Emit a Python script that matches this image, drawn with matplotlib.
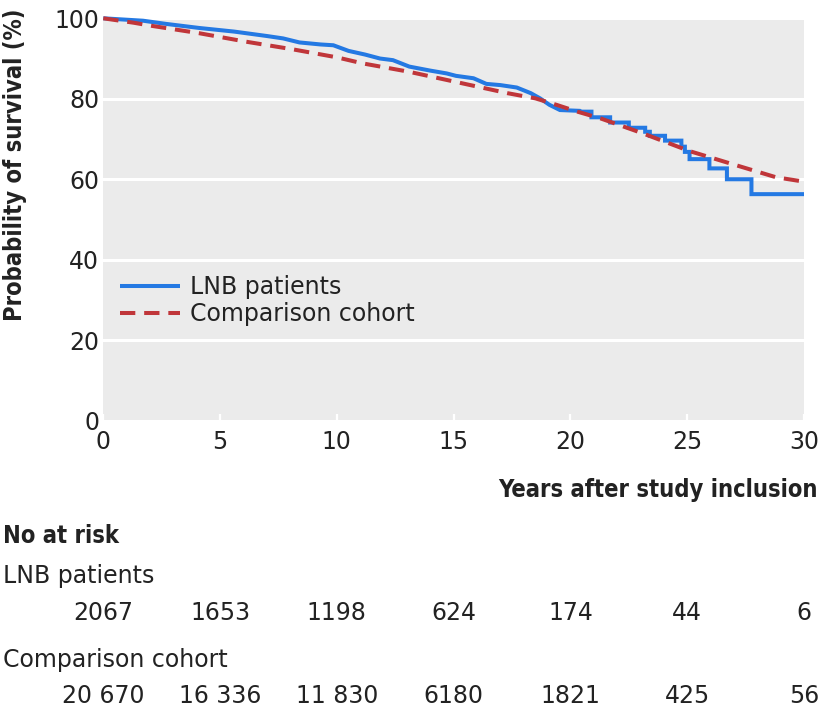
import matplotlib
matplotlib.use("Agg")
import matplotlib.pyplot as plt
import matplotlib.transforms as mtransforms

# ---- data ----
# LNB patients: Kaplan-Meier curve (repeated years mark the vertical drops of late steps)
lnb_years = [0, 1.7, 2.7, 4.1, 5.6, 7.0, 7.7, 8.4, 9.3, 9.85, 10.5, 11.2, 11.85,
             12.4, 13.1, 14.0, 14.7, 15.1, 15.85, 16.4, 17.0, 17.7, 18.3, 18.7,
             19.1, 19.55, 20.4, 20.45, 20.9, 20.9, 21.7, 21.7, 22.5, 22.5, 23.2,
             23.2, 23.4, 23.4, 24.05, 24.05, 24.75, 24.75, 24.9, 24.9, 25.1, 25.1,
             25.95, 25.95, 26.7, 26.7, 27.75, 27.75, 30]
lnb_surv = [100, 99.4, 98.6, 97.6, 96.7, 95.6, 95.0, 94.0, 93.5, 93.3, 91.9, 91.0,
            90.0, 89.6, 88.0, 87.0, 86.3, 85.7, 85.1, 83.7, 83.4, 82.8, 81.4, 80.1,
            78.5, 77.2, 77.0, 76.8, 76.8, 75.4, 75.4, 74.1, 74.1, 72.8, 72.8, 71.8,
            71.8, 70.8, 70.8, 69.6, 69.6, 68.1, 68.1, 66.8, 66.8, 65.0, 65.0, 62.7,
            62.7, 60.0, 60.0, 56.3, 56.3]

comp_years = [0, 1.3, 2.1, 4.1, 6.1, 8.1, 10.0, 11.1, 13.1, 15.4, 17.3, 18.5, 19.4,
              20.3, 21.3, 23.1, 25.1, 26.8, 28.0, 28.8, 30]
comp_surv = [100, 98.9, 98.1, 96.3, 94.2, 92.3, 90.3, 88.8, 86.7, 83.8, 81.4, 80.1,
             78.5, 76.8, 75.1, 71.4, 67.0, 64.0, 61.9, 60.5, 59.4]

series_labels = ["LNB patients", "Comparison cohort"]
risk_times = [0, 5, 10, 15, 20, 25, 30]
risk_lnb = ["2067", "1653", "1198", "624", "174", "44", "6"]
risk_comp = ["20 670", "16 336", "11 830", "6180", "1821", "425", "56"]
y_ticks = [0, 20, 40, 60, 80, 100]

# ---- style ----
W, H = 824, 712
FS = 17
TXT = "#222222"
BLUE = "#2479e3"
RED = "#c0363a"
BOLD = dict(family="DejaVu Sans", weight="bold", stretch="condensed")

fig = plt.figure(figsize=(W / 100, H / 100), dpi=100)
ax = fig.add_axes([103.3 / W, 1 - 420.7 / H, (804 - 103.3) / W, (420.7 - 18.3) / H])
ax.set_facecolor("#ebebeb")
for s in ax.spines.values():
    s.set_visible(False)

ax.plot(lnb_years, lnb_surv, color=BLUE, lw=2.9, label=series_labels[0],
        clip_on=False, solid_capstyle="butt", solid_joinstyle="miter", zorder=3)
ax.plot(comp_years, comp_surv, color=RED, lw=2.9, dashes=(3.8, 2.2),
        label=series_labels[1], clip_on=False, zorder=3)

ax.set_xlim(0, 30)
ax.set_ylim(0, 100)
ax.set_xticks(risk_times)
ax.set_yticks(y_ticks)
ax.yaxis.grid(True, color="white", lw=2.2)
ax.set_axisbelow(True)
ax.tick_params(axis="x", direction="in", length=5, width=1.6, color="white",
               pad=7, labelsize=FS, labelcolor=TXT)
ax.tick_params(axis="y", length=0, pad=3, labelsize=FS, labelcolor=TXT)

leg = ax.legend(loc="center left", bbox_to_anchor=((120 - 103.3) / 700.7, (420.7 - 300.5) / 402.4),
                frameon=False, fontsize=FS, handlelength=2.55, handletextpad=0.42,
                borderpad=0, borderaxespad=0, labelspacing=0.12)
for t in leg.get_texts():
    t.set_color(TXT)

# y label
fig.text(15 / W, 1 - 165 / H, "Probability of survival (%)", rotation=90,
         ha="center", va="center", fontsize=FS, color=TXT, **BOLD)

# x label
fig.text(818 / W, 1 - 497 / H, "Years after study inclusion", ha="right",
         va="baseline", fontsize=FS, color=TXT, **BOLD)

# number at risk table
fig.text(3 / W, 1 - 543 / H, "No at risk", ha="left", va="baseline",
         fontsize=FS, color=TXT, **BOLD)
fig.text(3 / W, 1 - 583 / H, series_labels[0], ha="left", va="baseline",
         fontsize=FS, color=TXT)
fig.text(3 / W, 1 - 667 / H, series_labels[1], ha="left", va="baseline",
         fontsize=FS, color=TXT)
tr = mtransforms.blended_transform_factory(ax.transData, fig.transFigure)
for t, a, b in zip(risk_times, risk_lnb, risk_comp):
    ax.text(t, 1 - 620 / H, a, transform=tr, ha="center", va="baseline",
            fontsize=FS, color=TXT, clip_on=False)
    ax.text(t, 1 - 703 / H, b, transform=tr, ha="center", va="baseline",
            fontsize=FS, color=TXT, clip_on=False)

fig.savefig("out.png", dpi=100)
